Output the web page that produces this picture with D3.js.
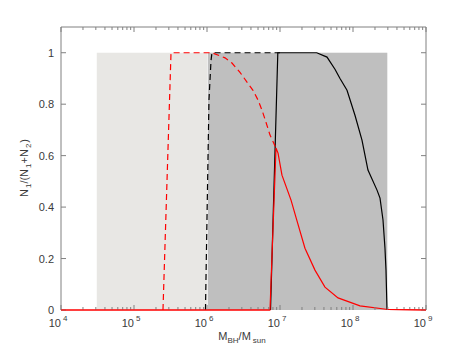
<!DOCTYPE html>
<html>
<head>
<meta charset="utf-8">
<script src="https://cdn.jsdelivr.net/npm/d3@7"></script>
<style>
body { margin: 0; background: #fff; }
text { font-family: "Liberation Sans", Arial, sans-serif; fill: #3a3a3a; }
</style>
</head>
<body>
<script>
var width = 471
var height = 349

// shaded mass ranges (log10 M)
var lightBand = [4.49, 6.0]
var darkBand = [6.01, 8.47]

// curves: [log10 M, fraction]
var redSolid = [[4, 0], [6.863, 0], [6.945, 0.63], [6.973, 0.61], [7.027, 0.524], [7.151, 0.427],
	[7.229, 0.35], [7.342, 0.24], [7.479, 0.155], [7.616, 0.089], [7.795, 0.047],
	[8.096, 0.016], [8.479, 0.002], [9, 0]]
var redDashed = [[5.397, 0], [5.507, 1], [6.068, 1], [6.247, 0.98], [6.342, 0.96], [6.452, 0.924],
	[6.562, 0.88], [6.63, 0.854], [6.699, 0.816], [6.753, 0.777], [6.808, 0.73],
	[6.863, 0.68], [6.945, 0.63]]
var blackDashed = [[5.979, 0], [6.027, 0.816], [6.055, 0.97], [6.068, 1], [7.0, 1]]
var blackSolid = [[6.87, 0], [6.97, 1], [7.503, 1], [7.644, 0.983], [7.753, 0.936], [7.822, 0.9],
	[7.918, 0.854], [8.027, 0.757], [8.123, 0.66], [8.205, 0.544], [8.329, 0.466],
	[8.37, 0.435], [8.411, 0.35], [8.438, 0.24], [8.452, 0.155], [8.466, 0]]

var xExp = [4, 5, 6, 7, 8, 9]
var yTicks = [0, 0.2, 0.4, 0.6, 0.8, 1]

var svg = d3.select('body')
			.append('svg')
			.attr('width', width)
			.attr('height', height)

var x = d3.scaleLog().domain([1e4, 1e9]).range([61, 426])
var y = d3.scaleLinear().domain([0, 1.1]).range([310, 27])

svg.append('rect')
	.attr('x', x(Math.pow(10, lightBand[0])))
	.attr('width', x(Math.pow(10, lightBand[1])) - x(Math.pow(10, lightBand[0])))
	.attr('y', y(1))
	.attr('height', y(0) - y(1))
	.attr('fill', '#e8e7e4')

svg.append('rect')
	.attr('x', x(Math.pow(10, darkBand[0])))
	.attr('width', x(Math.pow(10, darkBand[1])) - x(Math.pow(10, darkBand[0])))
	.attr('y', y(1))
	.attr('height', y(0) - y(1))
	.attr('fill', '#bfbfbf')

var line = d3.line()
	.x(function(d){ return x(Math.pow(10, d[0])) })
	.y(function(d){ return y(d[1]) })

var curves = [
	{data: blackDashed, color: '#000', dash: '6,4'},
	{data: blackSolid, color: '#000', dash: null},
	{data: redDashed, color: '#ff0000', dash: '6,4'},
	{data: redSolid, color: '#ff0000', dash: null}
]

svg.selectAll('path.curve')
	.data(curves)
	.enter()
	.append('path')
	.attr('class', 'curve')
	.attr('d', function(d){ return line(d.data) })
	.attr('fill', 'none')
	.attr('stroke', function(d){ return d.color })
	.attr('stroke-width', 1.2)
	.attr('stroke-dasharray', function(d){ return d.dash })

// axes box with inward ticks
var axisColor = '#808080'
var x0 = 61, x1 = 426, y0 = 310, y1 = 27

var minor = []
for (var e = 4; e < 9; e++) {
	for (var k = 2; k <= 9; k++) minor.push(k * Math.pow(10, e))
}

var g = svg.append('g').attr('stroke', axisColor).attr('stroke-width', 1)

g.append('path')
	.attr('d', 'M' + x0 + ',' + y0 + 'V' + y1 + 'H' + x1 + 'V' + y0)
	.attr('fill', 'none')

xExp.forEach(function(e){
	var px = x(Math.pow(10, e))
	g.append('line').attr('x1', px).attr('x2', px).attr('y1', y0).attr('y2', y0 - 5)
	g.append('line').attr('x1', px).attr('x2', px).attr('y1', y1).attr('y2', y1 + 5)
})
minor.forEach(function(v){
	var px = x(v)
	g.append('line').attr('x1', px).attr('x2', px).attr('y1', y0).attr('y2', y0 - 3)
	g.append('line').attr('x1', px).attr('x2', px).attr('y1', y1).attr('y2', y1 + 3)
})
yTicks.forEach(function(t){
	var py = y(t)
	g.append('line').attr('x1', x0).attr('x2', x0 + 5).attr('y1', py).attr('y2', py)
	g.append('line').attr('x1', x1).attr('x2', x1 - 5).attr('y1', py).attr('y2', py)
})

// red baseline sits over the bottom axis
svg.append('path')
	.attr('d', line(redSolid.slice(0, 2)) + line(redSolid.slice(-2)))
	.attr('fill', 'none')
	.attr('stroke', '#ff0000')
	.attr('stroke-width', 1.2)

svg.selectAll('text.ytick')
	.data(yTicks)
	.enter()
	.append('text')
	.attr('class', 'ytick')
	.attr('x', 54)
	.attr('y', function(d){ return y(d) + 4 })
	.attr('text-anchor', 'end')
	.attr('font-size', 11)
	.text(function(d){ return d3.format('')(d) })

var xl = svg.selectAll('text.xtick')
	.data(xExp)
	.enter()
	.append('text')
	.attr('class', 'xtick')
	.attr('x', function(d){ return x(Math.pow(10, d)) - 3 })
	.attr('y', 327)
	.attr('text-anchor', 'middle')
	.attr('font-size', 11)
xl.append('tspan').text('10')
xl.append('tspan').attr('dx', 2).attr('dy', -6).attr('font-size', 8).text(function(d){ return d })

var xt = svg.append('text')
	.attr('x', 242)
	.attr('y', 340)
	.attr('text-anchor', 'middle')
	.attr('font-size', 11)
xt.append('tspan').text('M')
xt.append('tspan').attr('dy', 3).attr('font-size', 8).text('BH')
xt.append('tspan').attr('dy', -3).text('/M')
xt.append('tspan').attr('dy', 3).attr('dx', 2).attr('font-size', 8).text('sun')

var yt = svg.append('text')
	.attr('transform', 'translate(28,168) rotate(-90)')
	.attr('text-anchor', 'middle')
	.attr('font-size', 11)
yt.append('tspan').text('N')
yt.append('tspan').attr('dy', 3).attr('dx', 1).attr('font-size', 8).text('1')
yt.append('tspan').attr('dy', -3).text('/(N')
yt.append('tspan').attr('dy', 3).attr('dx', 1).attr('font-size', 8).text('1')
yt.append('tspan').attr('dy', -3).text('+N')
yt.append('tspan').attr('dy', 3).attr('dx', 1).attr('font-size', 8).text('2')
yt.append('tspan').attr('dy', -3).attr('dx', 1).text(')')
</script>
</body>
</html>
